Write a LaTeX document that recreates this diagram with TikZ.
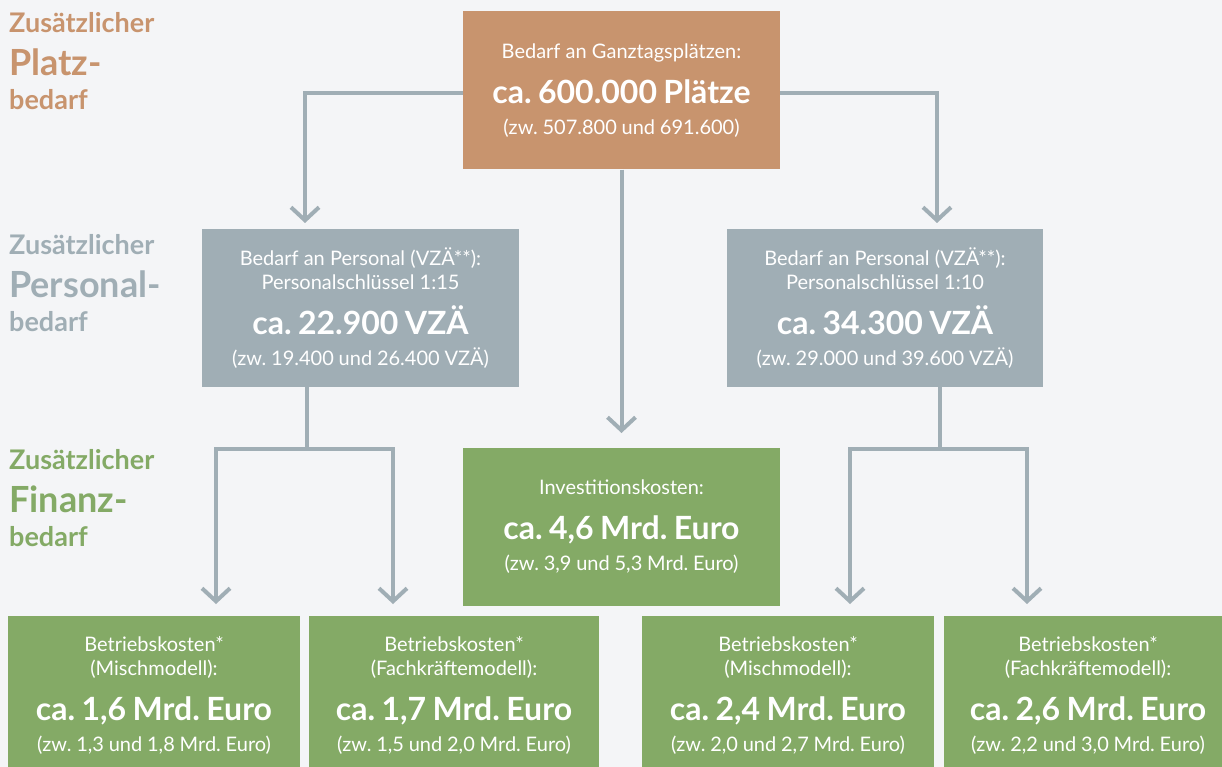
\documentclass[tikz,border=0pt]{standalone}
\usepackage{fontspec}
\setmainfont{Lato}
\usetikzlibrary{arrows.meta}
\frenchspacing

\definecolor{platzcol}{HTML}{C8946E}
\definecolor{personalcol}{HTML}{A0AEB5}
\definecolor{finanzcol}{HTML}{84AA66}
\definecolor{hintergrund}{HTML}{F4F5F7}

\newcommand{\zeileklein}[1]{{\fontsize{20}{24}\selectfont\spaceskip=0.26em #1\par}}
\newcommand{\zeilegross}[1]{{\fontsize{32}{45}\selectfont\bfseries\spaceskip=0.2em #1\par}}
\newcommand{\zeilespanne}[1]{{\fontsize{20}{31}\selectfont\spaceskip=0.24em #1\par}}
\newcommand{\seitentitel}[1]{{\fontsize{27}{27}\selectfont Zusätzlicher\par}%
  {\fontsize{36}{43}\selectfont #1\par}{\fontsize{27}{34}\selectfont bedarf\par}}

\tikzset{
  kasten/.style={inner sep=0pt, text=white, text width=#1, align=center,
    minimum height=158pt},
  seite/.style={inner sep=0pt, anchor=north west, text width=200pt, align=left,
    font=\bfseries},
  conn/.style={draw=personalcol, line width=4pt,
    -{Straight Barb[length=13pt,width=28pt]}},
}

\begin{document}
\begin{tikzpicture}[x=1pt,y=-1pt]
  \fill[hintergrund] (0,0) rectangle (1222,767);
  \useasboundingbox (0,0) rectangle (1222,767);

  \node[seite, text=platzcol] (tplatz) at (9,12) {\seitentitel{Platz-}};
  \node[seite, text=personalcol] (tpersonal) at (9,234) {\seitentitel{Personal-}};
  \node[seite, text=finanzcol] (tfinanz) at (9,449) {\seitentitel{Finanz-}};

  \node[kasten=317pt, fill=platzcol] (platz) at (621.5,90.5) {%
    \zeileklein{Bedarf an Ganztagsplätzen:}
    \zeilegross{ca. 600.000 Plätze}
    \zeilespanne{(zw. 507.800 und 691.600)}};

  \node[kasten=317pt, fill=personalcol] (persA) at (360.5,308) {%
    \zeileklein{Bedarf an Personal (VZÄ**):}
    \zeileklein{Personalschlüssel 1:15}
    \zeilegross{ca. 22.900 VZÄ}
    \zeilespanne{(zw. 19.400 und 26.400 VZÄ)}};
  \node[kasten=316pt, fill=personalcol] (persB) at (885,308) {%
    \zeileklein{Bedarf an Personal (VZÄ**):}
    \zeileklein{Personalschlüssel 1:10}
    \zeilegross{ca. 34.300 VZÄ}
    \zeilespanne{(zw. 29.000 und 39.600 VZÄ)}};

  \node[kasten=317pt, fill=finanzcol] (invest) at (621.5,526.5) {%
    \zeileklein{Investitionskosten:}
    \zeilegross{ca. 4,6 Mrd. Euro}
    \zeilespanne{(zw. 3,9 und 5,3 Mrd. Euro)}};

  \node[kasten=292pt, fill=finanzcol] (betrA) at (154,695) {%
    \zeileklein{Betriebskosten*}
    \zeileklein{(Mischmodell):}
    \zeilegross{ca. 1,6 Mrd. Euro}
    \zeilespanne{(zw. 1,3 und 1,8 Mrd. Euro)}};
  \node[kasten=290pt, fill=finanzcol] (betrB) at (454,695) {%
    \zeileklein{Betriebskosten*}
    \zeileklein{(Fachkräftemodell):}
    \zeilegross{ca. 1,7 Mrd. Euro}
    \zeilespanne{(zw. 1,5 und 2,0 Mrd. Euro)}};
  \node[kasten=292pt, fill=finanzcol] (betrC) at (788,695) {%
    \zeileklein{Betriebskosten*}
    \zeileklein{(Mischmodell):}
    \zeilegross{ca. 2,4 Mrd. Euro}
    \zeilespanne{(zw. 2,0 und 2,7 Mrd. Euro)}};
  \node[kasten=288pt, fill=finanzcol] (betrD) at (1088,695) {%
    \zeileklein{Betriebskosten*}
    \zeileklein{(Fachkräftemodell):}
    \zeilegross{ca. 2,6 Mrd. Euro}
    \zeilespanne{(zw. 2,2 und 3,0 Mrd. Euro)}};

  % arrow ends
  \coordinate (tipA) at (305,223);
  \coordinate (tipB) at (937,223);
  \coordinate (tipC) at (621.5,433);
  \coordinate (forkA) at (307,449);
  \coordinate (forkB) at (940,449);
  \coordinate (tipD) at (216,604);
  \coordinate (tipE) at (393,604);
  \coordinate (tipF) at (850,604);
  \coordinate (tipG) at (1027,604);

  \draw[conn] ([yshift=-3pt]platz.west) -| (tipA);
  \draw[conn] ([yshift=-3pt]platz.east) -| (tipB);
  \draw[conn] (platz.south) -- (tipC);

  \draw[conn, -] (persA.south -| forkA) -- (forkA);
  \draw[conn, {Straight Barb[length=13pt,width=28pt]}-{Straight Barb[length=13pt,width=28pt]}]
    (tipD) |- (forkA) -| (tipE);
  \draw[conn, -] (persB.south -| forkB) -- (forkB);
  \draw[conn, {Straight Barb[length=13pt,width=28pt]}-{Straight Barb[length=13pt,width=28pt]}]
    (tipF) |- (forkB) -| (tipG);
\end{tikzpicture}
\end{document}
